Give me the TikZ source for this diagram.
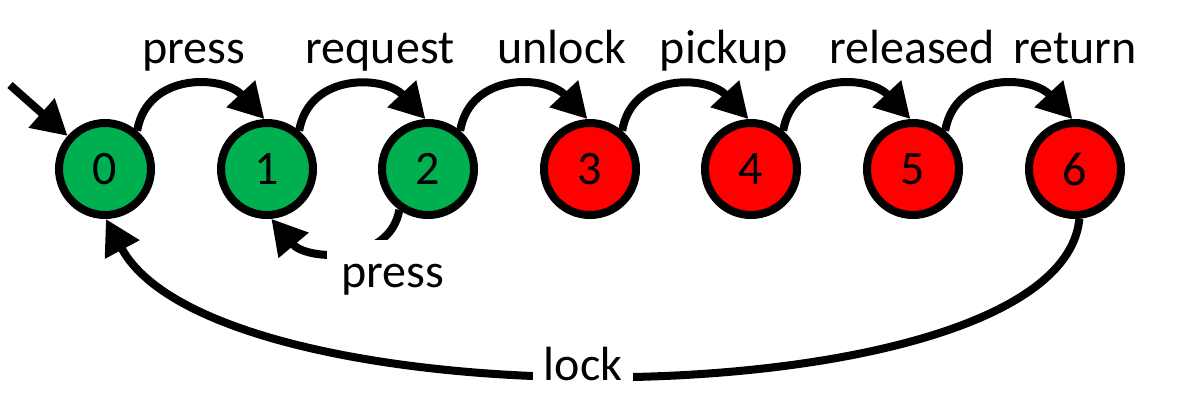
\documentclass[tikz,border=0pt]{standalone}
\usepackage{fontspec}
\setmainfont{Carlito}
\usetikzlibrary{arrows.meta}
\definecolor{stgreen}{HTML}{00B050}
\definecolor{stred}{HTML}{FF0000}
\begin{document}
\begin{tikzpicture}[x=0.75pt,y=-0.75pt,
  state/.style={circle,draw=black,line width=6pt,minimum size=69pt,inner sep=0pt,font=\fontsize{36}{43}\selectfont},
  gstate/.style={state,fill=stgreen},
  rstate/.style={state,fill=stred},
  arr/.style={line width=6pt,-{Triangle[length=26pt,width=28pt]}},
  lbl/.style={font=\fontsize{36}{43}\selectfont,anchor=base,inner sep=0pt},
  wlbl/.style={lbl,fill=white}
]
\useasboundingbox (0,0) rectangle (1185,408);
\node[gstate] (n0) at (105,169) {0};
\node[gstate] (n1) at (267,169) {1};
\node[gstate] (n2) at (428,169) {2};
\node[rstate] (n3) at (590,169) {3};
\node[rstate] (n4) at (751,169) {4};
\node[rstate] (n5) at (913,169) {5};
\node[rstate] (n6) at (1075,169) {6};
\coordinate (init) at (10,85);
\draw[arr] (init) -- (n0);
\draw[arr] (n0.50) to[out=80,in=133,looseness=1.2] (n1.93);
\draw[arr] (n1.50) to[out=80,in=133,looseness=1.2] (n2.93);
\draw[arr] (n2.50) to[out=80,in=133,looseness=1.2] (n3.93);
\draw[arr] (n3.50) to[out=80,in=133,looseness=1.2] (n4.93);
\draw[arr] (n4.50) to[out=80,in=133,looseness=1.2] (n5.93);
\draw[arr] (n5.50) to[out=80,in=133,looseness=1.2] (n6.93);
\draw[arr] (n2.235) to[out=260,in=-50,looseness=1.1] (n1.275);
\draw[arr] (n6.275) .. controls (1060,422) and (218,428) .. (n0.271);
\node[lbl] (l01) at (194,63) {press};
\node[lbl] (l12) at (380,63) {request};
\node[lbl] (l23) at (562,63) {unlock};
\node[lbl] (l34) at (724,63) {pickup};
\node[lbl] (l45) at (912,63) {released};
\node[lbl] (l56) at (1075,63) {return};
\node[wlbl,inner xsep=11pt,inner ysep=3pt,text height=32pt] (l21) at (393,287) {press};
\node[wlbl,inner xsep=8pt,inner ysep=1pt] (l60) at (583,380) {lock};
\end{tikzpicture}
\end{document}
